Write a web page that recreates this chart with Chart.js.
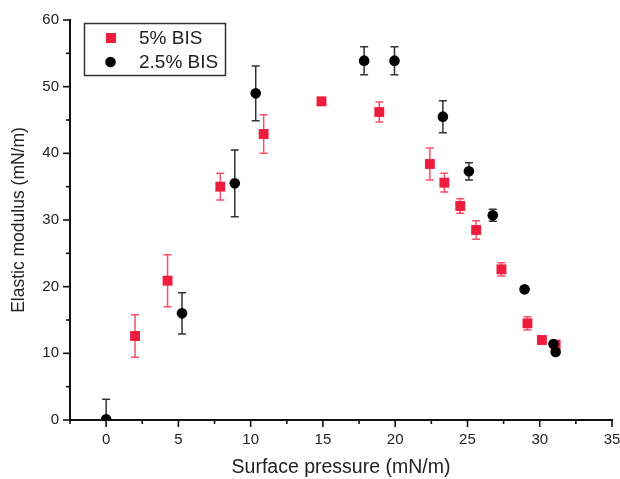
<!DOCTYPE html>
<html>
<head>
<meta charset="utf-8">
<script src="https://cdn.jsdelivr.net/npm/chart.js@4/dist/chart.umd.min.js"></script>
<style>
html,body{margin:0;padding:0;background:#fff;}
#wrap{width:620px;height:479px;}
</style>
</head>
<body>
<div id="wrap"><canvas id="c" width="620" height="479"></canvas></div>
<script>
// ---- data ----
const seriesLabels = ['5% BIS', '2.5% BIS'];
const redX   = [2.0, 4.25, 7.9, 10.9, 14.9, 18.9, 22.4, 23.4, 24.5, 25.6, 27.35, 29.15, 30.15, 31.1];
const redY   = [12.6, 20.9, 35.0, 42.9, 47.8, 46.2, 38.4, 35.6, 32.1, 28.5, 22.6, 14.5, 12.0, 11.3];
const redErr = [3.2, 3.9, 2.0, 2.9, 0.5, 1.5, 2.4, 1.4, 1.1, 1.4, 1.0, 1.0, 0.3, 0.4];
const blackX   = [0.0, 5.25, 8.9, 10.35, 17.85, 19.95, 23.3, 25.1, 26.75, 28.95, 30.95, 31.1];
const blackY   = [0.1, 16.0, 35.5, 49.0, 53.9, 53.9, 45.5, 37.3, 30.7, 19.6, 11.4, 10.2];
const blackErr = [3.0, 3.1, 5.0, 4.1, 2.1, 2.1, 2.4, 1.3, 0.9, 0.4, 0.3, 0.3];
const xTickStep = 2.5, xMin = -2.5, xMax = 35;
const yTickStep = 5, yMin = 0, yMax = 60;

const pts = (xs, ys) => xs.map((x, i) => ({x: x, y: ys[i]}));

const FONT = "'Liberation Sans', Arial, sans-serif";

const errorBarPlugin = {
  id: 'errorBars',
  beforeDatasetsDraw(chart) {
    const ctx = chart.ctx, ca = chart.chartArea;
    const xs = chart.scales.x, ys = chart.scales.y;
    ctx.save();
    ctx.beginPath();
    ctx.rect(ca.left, ca.top - 10, ca.right - ca.left, ca.bottom - ca.top + 10);
    ctx.clip();
    chart.data.datasets.forEach(ds => {
      const errs = ds.errorBars;
      if (!errs) return;
      ctx.strokeStyle = ds.errorColor;
      ctx.lineWidth = 1.5;
      ds.data.forEach((p, i) => {
        const e = errs[i];
        const px = xs.getPixelForValue(p.x);
        const top = ys.getPixelForValue(p.y + e);
        const bot = ys.getPixelForValue(p.y - e);
        const cap = 4;
        ctx.beginPath();
        ctx.moveTo(px, top); ctx.lineTo(px, bot);
        ctx.moveTo(px - cap, top); ctx.lineTo(px + cap, top);
        ctx.moveTo(px - cap, bot); ctx.lineTo(px + cap, bot);
        ctx.stroke();
      });
    });
    ctx.restore();
  }
};

const ticksAndLegendPlugin = {
  id: 'ticksLegend',
  afterDraw(chart) {
    const ctx = chart.ctx, ca = chart.chartArea;
    const xs = chart.scales.x, ys = chart.scales.y;
    ctx.save();
    ctx.strokeStyle = '#111';
    ctx.lineWidth = 1.6;
    xs.ticks.forEach(t => {
      const px = xs.getPixelForValue(t.value);
      const major = Math.abs(t.value % 5) < 1e-6;
      ctx.beginPath();
      ctx.moveTo(px, ca.bottom);
      ctx.lineTo(px, ca.bottom + (major ? 7 : 4));
      ctx.stroke();
    });
    ys.ticks.forEach(t => {
      const py = ys.getPixelForValue(t.value);
      const major = Math.abs(t.value % 10) < 1e-6;
      ctx.beginPath();
      ctx.moveTo(ca.left, py);
      ctx.lineTo(ca.left - (major ? 7 : 4), py);
      ctx.stroke();
    });
    // legend box
    ctx.strokeStyle = '#333';
    ctx.lineWidth = 1.5;
    ctx.strokeRect(84.5, 23.5, 141, 52);
    ctx.font = '19px ' + FONT;
    ctx.textBaseline = 'middle';
    const ds = chart.data.datasets;
    // entry 1: square
    ctx.fillStyle = ds[0].backgroundColor;
    ctx.fillRect(106, 33, 10, 10);
    ctx.fillStyle = '#222';
    ctx.fillText(ds[0].label, 139, 38.5);
    // entry 2: circle
    ctx.fillStyle = ds[1].backgroundColor;
    ctx.beginPath();
    ctx.arc(110.5, 62, 5.3, 0, Math.PI * 2);
    ctx.fill();
    ctx.fillStyle = '#222';
    ctx.fillText(ds[1].label, 139, 62.5);
    ctx.restore();
  }
};

new Chart(document.getElementById('c'), {
  type: 'scatter',
  data: {
    datasets: [
      {
        label: seriesLabels[0],
        data: pts(redX, redY),
        errorBars: redErr,
        errorColor: '#f3506c',
        pointStyle: 'rect',
        pointRadius: 7,
        pointHoverRadius: 7,
        backgroundColor: '#ee1d3d',
        borderColor: '#ee1d3d',
        borderWidth: 0,
        order: 1,
        clip: 8
      },
      {
        label: seriesLabels[1],
        data: pts(blackX, blackY),
        errorBars: blackErr,
        errorColor: '#333333',
        pointStyle: 'circle',
        pointRadius: 5.3,
        pointHoverRadius: 5.3,
        backgroundColor: '#000000',
        borderColor: '#000000',
        borderWidth: 0,
        order: 0,
        clip: {left: 8, right: 8, top: 8, bottom: 0}
      }
    ]
  },
  options: {
    responsive: false,
    animation: false,
    devicePixelRatio: 1,
    layout: {padding: {top: 20, right: 8, left: 0, bottom: 0}},
    plugins: {
      legend: {display: false},
      tooltip: {enabled: false}
    },
    scales: {
      x: {
        type: 'linear',
        min: xMin, max: xMax,
        afterFit: s => { s.height = 59; s.paddingLeft = 0; s.paddingRight = 0; },
        ticks: {
          stepSize: xTickStep,
          autoSkip: false,
          maxRotation: 0,
          color: '#222',
          font: {family: FONT, size: 15},
          padding: 4,
          callback: v => (Math.abs(v % 5) < 1e-6 ? String(v) : '')
        },
        grid: {display: true, drawOnChartArea: false, drawTicks: true, tickLength: 7, tickColor: 'rgba(0,0,0,0)'},
        border: {display: true, color: '#111', width: 2},
        title: {
          display: true,
          text: 'Surface pressure (mN/m)',
          color: '#222',
          font: {family: FONT, size: 19.5},
          padding: {top: 5, bottom: 0}
        }
      },
      y: {
        type: 'linear',
        min: yMin, max: yMax,
        afterFit: s => { s.width = 70; s.paddingTop = 0; s.paddingBottom = 0; },
        ticks: {
          stepSize: yTickStep,
          autoSkip: false,
          color: '#222',
          font: {family: FONT, size: 15},
          padding: 4,
          callback: v => (Math.abs(v % 10) < 1e-6 ? String(v) : '')
        },
        grid: {display: true, drawOnChartArea: false, drawTicks: true, tickLength: 7, tickColor: 'rgba(0,0,0,0)'},
        border: {display: true, color: '#111', width: 2},
        title: {
          display: true,
          text: 'Elastic modulus (mN/m)',
          color: '#222',
          font: {family: FONT, size: 17.5},
          padding: {top: 9, bottom: 0}
        }
      }
    }
  },
  plugins: [errorBarPlugin, ticksAndLegendPlugin]
});
</script>
</body>
</html>
